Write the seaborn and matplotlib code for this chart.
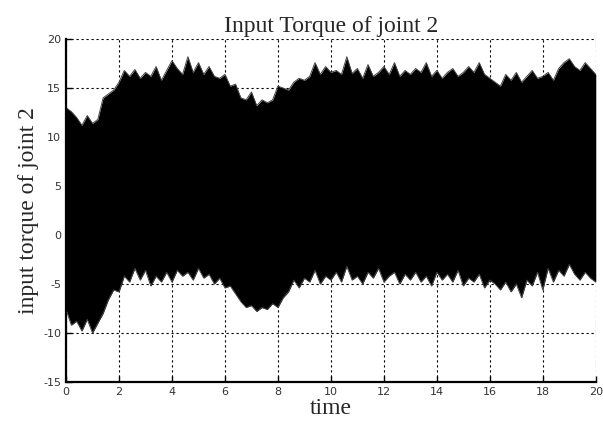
import matplotlib
matplotlib.use("Agg")
import matplotlib.pyplot as plt
import numpy as np
import pandas as pd
import seaborn as sns

# envelope of the torque signal, every 0.2 s
time = np.round(np.arange(0, 20.01, 0.2), 1)
upper = [
    13.0, 12.6, 12.0, 11.2, 12.2, 11.4, 11.8, 14.0, 14.4, 14.8,
    15.6, 16.8, 16.2, 16.9, 16.0, 16.6, 16.2, 17.2, 15.8, 16.8,
    17.8, 17.0, 16.4, 18.2, 16.6, 17.6, 16.4, 17.2, 16.2, 16.0,
    16.4, 15.2, 15.4, 14.0, 13.8, 14.6, 13.2, 13.8, 13.5, 13.8,
    15.2, 15.0, 14.8, 15.6, 16.0, 15.8, 16.2, 17.6, 16.4, 17.2,
    16.6, 16.8, 16.4, 18.2, 16.5, 17.0, 16.0, 17.4, 16.2, 16.6,
    17.2, 16.4, 17.6, 16.2, 16.8, 16.4, 17.0, 16.6, 17.6, 16.2,
    16.8, 16.0, 16.6, 17.0, 16.2, 16.6, 17.2, 16.6, 17.6, 16.4,
    16.0, 15.6, 15.2, 16.4, 15.8, 16.6, 15.6, 16.2, 16.8, 16.0,
    16.2, 16.6, 15.8, 17.0, 17.6, 18.0, 17.2, 16.8, 17.6, 17.0,
    16.4,
]
lower = [
    -7.6, -9.2, -8.8, -9.8, -8.6, -10.0, -9.0, -8.0, -6.6, -5.6,
    -5.8, -4.2, -4.8, -3.4, -4.6, -3.6, -5.2, -4.2, -4.8, -3.8,
    -4.8, -3.6, -4.2, -3.8, -4.6, -3.4, -4.4, -4.0, -5.0, -4.4,
    -5.4, -5.2, -6.0, -6.8, -7.4, -7.2, -7.8, -7.4, -7.6, -7.0,
    -7.4, -6.4, -5.8, -4.6, -5.4, -4.4, -4.8, -3.6, -5.0, -4.2,
    -4.6, -3.8, -4.8, -3.2, -4.6, -4.2, -5.0, -3.8, -4.4, -3.4,
    -4.8, -4.2, -3.8, -5.0, -4.0, -4.6, -3.8, -4.8, -4.2, -5.2,
    -3.8, -4.6, -4.0, -4.8, -3.6, -5.2, -4.4, -4.8, -4.0, -5.4,
    -4.6, -5.0, -5.6, -4.8, -5.8, -5.0, -6.4, -4.6, -5.2, -3.8,
    -5.6, -3.4, -4.8, -3.6, -4.2, -3.0, -4.0, -4.6, -3.8, -4.4,
    -4.8,
]
x_ticks = list(range(0, 21, 2))
y_ticks = list(range(-15, 21, 5))

df = pd.DataFrame({"time": time, "upper": upper, "lower": lower})

sns.set_theme(style="white")
plt.rcParams["font.family"] = "DejaVu Sans"
plt.rcParams["axes.unicode_minus"] = False

fig = plt.figure(figsize=(6.03, 4.25), dpi=100)
ax = fig.add_axes([0.1095, 0.1012, 0.8785, 0.8068])

ax.grid(True, color="black", linestyle=(0, (2, 2.5)), linewidth=0.8)
ax.set_axisbelow(True)

ax.fill_between(df["time"], df["lower"], df["upper"], color="black", lw=0, zorder=2)
sns.lineplot(data=df, x="time", y="upper", ax=ax, color="#444444", lw=0.7, zorder=3)
sns.lineplot(data=df, x="time", y="lower", ax=ax, color="#444444", lw=0.7, zorder=3)

ax.set_xlim(0, 20)
ax.set_ylim(-15, 20)
ax.set_xticks(x_ticks)
ax.set_yticks(y_ticks)
ax.tick_params(direction="in", length=4, width=1, labelsize=8, colors="black",
               labelcolor="#333333", top=False, right=False, left=True, bottom=True)

for side in ("top", "right"):
    ax.spines[side].set_visible(False)
for side in ("left", "bottom"):
    ax.spines[side].set_color("black")
    ax.spines[side].set_linewidth(1.6)
    ax.spines[side].set_zorder(4)

serif = ["Liberation Serif", "DejaVu Serif"]
ax.set_title("Input Torque of joint 2", family=serif, fontsize=17, pad=5)
ax.set_xlabel("time", family=serif, fontsize=17, labelpad=1)
ax.set_ylabel("input torque of joint 2", family=serif, fontsize=17, labelpad=3)

fig.savefig("out.png", dpi=100)
